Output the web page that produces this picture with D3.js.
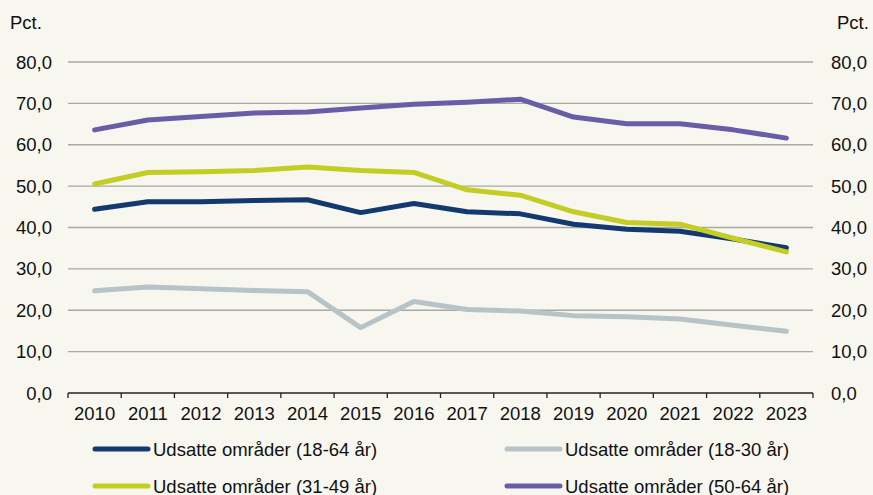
<!DOCTYPE html>
<html>
<head>
<meta charset="utf-8">
<script src="https://cdn.jsdelivr.net/npm/d3@7"></script>
<style>
  body { margin: 0; background: #f7f6ef; }
  svg { display: block; font-family: "Liberation Sans", Arial, sans-serif; }
</style>
</head>
<body>
<script>
var years = ["2010","2011","2012","2013","2014","2015","2016","2017","2018","2019","2020","2021","2022","2023"];
var udsat1864 = [44.4, 46.2, 46.2, 46.5, 46.7, 43.6, 45.8, 43.8, 43.3, 40.8, 39.6, 39.1, 37.2, 35.1];
var udsat1830 = [24.7, 25.6, 25.2, 24.8, 24.5, 15.8, 22.1, 20.2, 19.8, 18.7, 18.4, 17.9, 16.4, 14.9];
var udsat3149 = [50.5, 53.3, 53.5, 53.8, 54.6, 53.8, 53.3, 49.1, 47.8, 43.8, 41.2, 40.8, 37.4, 34.1];
var udsat5064 = [63.6, 66.0, 66.8, 67.7, 67.9, 68.9, 69.8, 70.3, 71.0, 66.7, 65.1, 65.1, 63.6, 61.6];
var yTicks = [0, 10, 20, 30, 40, 50, 60, 70, 80];

var series = [
  {name: "Udsatte områder (18-64 år)", values: udsat1864, color: "#123a6f"},
  {name: "Udsatte områder (18-30 år)", values: udsat1830, color: "#b6c4c7"},
  {name: "Udsatte områder (31-49 år)", values: udsat3149, color: "#c3cd23"},
  {name: "Udsatte områder (50-64 år)", values: udsat5064, color: "#6a5da7"}
];

var width = 873, height = 495;
var plotLeft = 68, plotRight = 813, plotTop = 62, plotBottom = 393;
var fs = 18.5;

var svg = d3.select("body").append("svg")
  .attr("width", width)
  .attr("height", height);

svg.append("rect").attr("width", width).attr("height", height).attr("fill", "#f7f6ef");

var x = d3.scaleBand().domain(years).range([plotLeft, plotRight]).padding(0);
var y = d3.scaleLinear().domain([0, 80]).range([plotBottom, plotTop]);

// gridlines
svg.selectAll(".grid")
  .data(yTicks.filter(function(d) { return d > 0; }))
  .enter()
  .append("line")
  .attr("x1", plotLeft)
  .attr("x2", plotRight)
  .attr("y1", function(d) { return y(d); })
  .attr("y2", function(d) { return y(d); })
  .attr("stroke", "#a9a8a3")
  .attr("stroke-width", 1.3);

var fmt = function(d) { return d3.format(".1f")(d).replace(".", ","); };

// left axis labels
svg.selectAll(".yl")
  .data(yTicks)
  .enter()
  .append("text")
  .attr("x", 52)
  .attr("y", function(d) { return y(d) + 6.5; })
  .attr("text-anchor", "end")
  .attr("font-size", fs)
  .attr("fill", "#111")
  .text(fmt);

// right axis labels
svg.selectAll(".yr")
  .data(yTicks)
  .enter()
  .append("text")
  .attr("x", 831)
  .attr("y", function(d) { return y(d) + 6.5; })
  .attr("text-anchor", "start")
  .attr("font-size", fs)
  .attr("fill", "#111")
  .text(fmt);

svg.append("text").attr("x", 10).attr("y", 29).attr("font-size", fs).attr("fill", "#111").text("Pct.");
svg.append("text").attr("x", 837).attr("y", 29).attr("font-size", fs).attr("fill", "#111").text("Pct.");

// x axis
var xAxis = svg.append("g")
  .attr("transform", "translate(0," + plotBottom + ")")
  .call(d3.axisBottom(x).tickSize(0).tickPadding(14));
xAxis.select(".domain").remove();
xAxis.selectAll("text")
  .attr("font-size", fs)
  .attr("fill", "#111")
  .attr("font-family", "Liberation Sans, Arial, sans-serif");

svg.append("line")
  .attr("x1", plotLeft).attr("x2", plotRight)
  .attr("y1", plotBottom).attr("y2", plotBottom)
  .attr("stroke", "#222").attr("stroke-width", 1.3);

var bounds = years.map(function(d) { return x(d); }).concat([x(years[years.length - 1]) + x.bandwidth()]);
svg.selectAll(".xt")
  .data(bounds)
  .enter()
  .append("line")
  .attr("x1", function(d) { return d; })
  .attr("x2", function(d) { return d; })
  .attr("y1", plotBottom)
  .attr("y2", plotBottom + 5)
  .attr("stroke", "#222")
  .attr("stroke-width", 1.3);

// lines
var line = d3.line()
  .x(function(d, i) { return x(years[i]) + x.bandwidth() / 2; })
  .y(function(d) { return y(d); });

// draw order: gray, navy, yellow, purple
[1, 0, 2, 3].forEach(function(k) {
  var s = series[k];
  svg.append("path")
    .attr("d", line(s.values))
    .attr("fill", "none")
    .attr("stroke", s.color)
    .attr("stroke-width", 5)
    .attr("stroke-linecap", "round")
    .attr("stroke-linejoin", "round");
});

// legend
var legendPos = [
  {x: 95, y: 449},
  {x: 507, y: 449},
  {x: 95, y: 486},
  {x: 507, y: 486}
];
series.forEach(function(s, i) {
  var p = legendPos[i];
  svg.append("line")
    .attr("x1", p.x).attr("x2", p.x + 53)
    .attr("y1", p.y).attr("y2", p.y)
    .attr("stroke", s.color)
    .attr("stroke-width", 5)
    .attr("stroke-linecap", "round");
  svg.append("text")
    .attr("x", p.x + 58)
    .attr("y", p.y + 6.5)
    .attr("font-size", fs)
    .attr("fill", "#111")
    .text(s.name);
});
</script>
</body>
</html>
